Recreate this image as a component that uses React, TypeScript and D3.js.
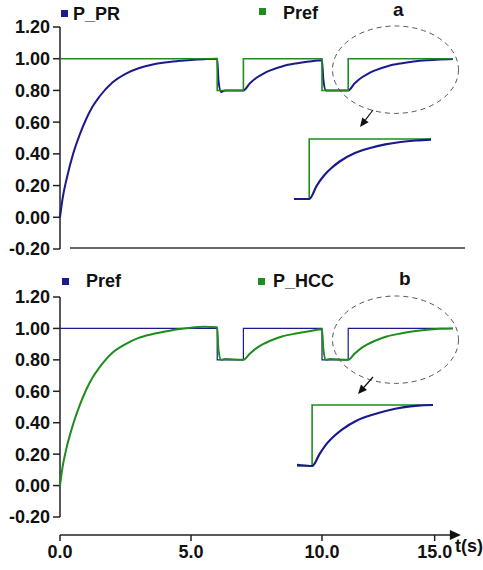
import React from "react";
import * as d3 from "d3";

// ---- data ----
const refTimes = [0, 6, 7, 10, 11, 15];
const refValues = [1.0, 0.8, 1.0, 0.8, 1.0, 1.0];

const respTimes = [0, 0.1, 0.25, 0.5, 0.75, 1, 1.25, 1.5, 2, 2.5, 3, 3.5, 4, 4.5, 5, 5.5, 6, 6.05, 6.15, 6.3, 7, 7.25, 7.5, 7.75, 8, 8.5, 9, 9.5, 10, 10.05, 10.15, 10.3, 11, 11.25, 11.5, 11.75, 12, 12.5, 13, 13.5, 14, 14.5, 15];
const pPR = [0, 0.12, 0.24, 0.4, 0.52, 0.62, 0.7, 0.76, 0.85, 0.905, 0.94, 0.962, 0.976, 0.985, 0.992, 0.997, 1.0, 0.86, 0.79, 0.8, 0.8, 0.845, 0.88, 0.905, 0.925, 0.953, 0.97, 0.982, 0.99, 0.87, 0.8, 0.8, 0.8, 0.845, 0.88, 0.905, 0.925, 0.953, 0.97, 0.982, 0.99, 0.995, 0.998];
const pHCC = [0, 0.12, 0.24, 0.39, 0.51, 0.61, 0.69, 0.75, 0.845, 0.9, 0.94, 0.963, 0.98, 0.995, 1.005, 1.01, 1.008, 0.86, 0.8, 0.805, 0.8, 0.84, 0.875, 0.9, 0.92, 0.95, 0.968, 0.982, 0.995, 0.87, 0.8, 0.805, 0.8, 0.84, 0.875, 0.9, 0.92, 0.95, 0.968, 0.982, 0.992, 0.998, 1.0];

const yTicks = [-0.2, 0, 0.2, 0.4, 0.6, 0.8, 1.0, 1.2];
const xTickValues = [0, 5, 10, 14.3];
const xTickLabels = ["0.0", "5.0", "10.0", "15.0"];

const NAVY = "#1a1a8c";
const GREEN = "#1e8c1e";
const FONT = "'Liberation Sans', Arial, sans-serif";

type Pt = { t: number; v: number };
const refPts: Pt[] = refTimes.map((t, i) => ({ t, v: refValues[i] }));
const prPts: Pt[] = respTimes.map((t, i) => ({ t, v: pPR[i] }));
const hccPts: Pt[] = respTimes.map((t, i) => ({ t, v: pHCC[i] }));

const x = d3.scaleLinear().domain([0, 15]).range([60, 453]);
const yTop = d3.scaleLinear().domain([-0.2, 1.2]).range([249, 27]);
const yBot = d3.scaleLinear().domain([-0.2, 1.2]).range([517, 297]);

const xInA = d3.scaleLinear().domain([10.5, 15]).range([294, 431]);
const yInA = d3.scaleLinear().domain([0.8, 1.0]).range([199, 139]);
const xInB = d3.scaleLinear().domain([10.5, 15]).range([297, 433]);
const yInB = d3.scaleLinear().domain([0.8, 1.0]).range([466, 405]);

function stepPath(xs: d3.ScaleLinear<number, number>, ys: d3.ScaleLinear<number, number>, pts: Pt[]) {
  return d3.line<Pt>().x(d => xs(d.t)).y(d => ys(d.v)).curve(d3.curveStepAfter)(pts) || "";
}
function respPath(xs: d3.ScaleLinear<number, number>, ys: d3.ScaleLinear<number, number>, pts: Pt[]) {
  return d3.line<Pt>().x(d => xs(d.t)).y(d => ys(d.v)).curve(d3.curveMonotoneX)(pts) || "";
}

function YAxis({ ys }: { ys: d3.ScaleLinear<number, number> }) {
  const [lo, hi] = ys.domain();
  return (
    <g>
      <line x1={60} x2={60} y1={ys(hi)} y2={ys(lo)} stroke="#222" strokeWidth={1.5} />
      {yTicks.map(v => (
        <g key={v}>
          <line x1={53} x2={60} y1={ys(v)} y2={ys(v)} stroke="#222" strokeWidth={1.5} />
          <text x={50} y={ys(v)} dy="0.36em" textAnchor="end" fontFamily={FONT} fontWeight="bold" fontSize={18} fill="#111">
            {v.toFixed(2)}
          </text>
        </g>
      ))}
    </g>
  );
}

function Arrow({ x1, y1, x2, y2 }: { x1: number; y1: number; x2: number; y2: number }) {
  const ang = Math.atan2(y2 - y1, x2 - x1);
  const L = 9, W = 4;
  const bx = x2 - L * Math.cos(ang), by = y2 - L * Math.sin(ang);
  const px = -Math.sin(ang) * W, py = Math.cos(ang) * W;
  return (
    <g>
      <line x1={x1} y1={y1} x2={bx} y2={by} stroke="#111" strokeWidth={1.2} />
      <path d={`M${x2},${y2}L${bx + px},${by + py}L${bx - px},${by - py}Z`} fill="#111" />
    </g>
  );
}

export default function App() {
  const axisEnd = x(15.3);
  return (
    <svg width={483} height={570} style={{ position: "absolute", left: 0, top: 0, background: "#fff" }}>
      <defs>
        <clipPath id="clipA">
          <rect x={xInA(10.5)} y={120} width={xInA(15) - xInA(10.5) + 1} height={100} />
        </clipPath>
        <clipPath id="clipB">
          <rect x={xInB(10.5)} y={390} width={xInB(15) - xInB(10.5) + 1} height={100} />
        </clipPath>
      </defs>

      {/* ---- top panel (a) ---- */}
      <YAxis ys={yTop} />
      <line x1={70} x2={465} y1={248} y2={248} stroke="#333" strokeWidth={1.5} />
      <path d={respPath(x, yTop, prPts)} fill="none" stroke={NAVY} strokeWidth={2} />
      <path d={stepPath(x, yTop, refPts)} fill="none" stroke={GREEN} strokeWidth={1.6} />

      <rect x={61} y={10} width={7} height={7} fill={NAVY} />
      <text x={73} y={20} fontFamily={FONT} fontWeight="bold" fontSize={18} fill="#111">P_PR</text>
      <rect x={259} y={8} width={7} height={7} fill={GREEN} />
      <text x={283} y={19} fontFamily={FONT} fontWeight="bold" fontSize={18} fill="#111">Pref</text>
      <text x={393} y={16} fontFamily={FONT} fontWeight="bold" fontSize={19} fill="#111">a</text>

      <ellipse cx={395.5} cy={69.7} rx={63} ry={43.7} fill="none" stroke="#555" strokeWidth={1} strokeDasharray="5,4" />
      <Arrow x1={373} y1={110} x2={360} y2={127} />

      <g clipPath="url(#clipA)">
        <path d={stepPath(xInA, yInA, refPts)} fill="none" stroke={GREEN} strokeWidth={1.6} />
        <path d={respPath(xInA, yInA, prPts)} fill="none" stroke={NAVY} strokeWidth={2.2} />
      </g>

      {/* ---- bottom panel (b) ---- */}
      <YAxis ys={yBot} />
      <path d={stepPath(x, yBot, refPts)} fill="none" stroke={NAVY} strokeWidth={1.2} />
      <path d={respPath(x, yBot, hccPts)} fill="none" stroke={GREEN} strokeWidth={2} />

      <rect x={62} y={278} width={7} height={7} fill={NAVY} />
      <text x={86} y={287} fontFamily={FONT} fontWeight="bold" fontSize={18} fill="#111">Pref</text>
      <rect x={258} y={278} width={7} height={7} fill={GREEN} />
      <text x={273} y={287} fontFamily={FONT} fontWeight="bold" fontSize={18} fill="#111">P_HCC</text>
      <text x={399} y={285} fontFamily={FONT} fontWeight="bold" fontSize={19} fill="#111">b</text>

      <ellipse cx={395.5} cy={339.7} rx={63} ry={43.7} fill="none" stroke="#555" strokeWidth={1} strokeDasharray="5,4" />
      <Arrow x1={373} y1={377} x2={358} y2={394} />

      <g clipPath="url(#clipB)">
        <path d={stepPath(xInB, yInB, refPts)} fill="none" stroke={GREEN} strokeWidth={1.6} />
        <path d={respPath(xInB, yInB, hccPts)} fill="none" stroke={NAVY} strokeWidth={2.2} />
      </g>

      {/* x axis */}
      <line x1={60} x2={axisEnd - 8} y1={535} y2={535} stroke="#222" strokeWidth={1.5} />
      <path d={`M${axisEnd},535L${axisEnd - 11},530L${axisEnd - 11},540Z`} fill="#111" />
      {xTickValues.map((v, i) => (
        <g key={v}>
          <line x1={x(v)} x2={x(v)} y1={535} y2={541} stroke="#222" strokeWidth={1.5} />
          <text x={x(v)} y={558} textAnchor="middle" fontFamily={FONT} fontWeight="bold" fontSize={18} fill="#111">
            {xTickLabels[i]}
          </text>
        </g>
      ))}
      <text x={455} y={552} fontFamily={FONT} fontWeight="bold" fontSize={18} fill="#111">t(s)</text>
    </svg>
  );
}
